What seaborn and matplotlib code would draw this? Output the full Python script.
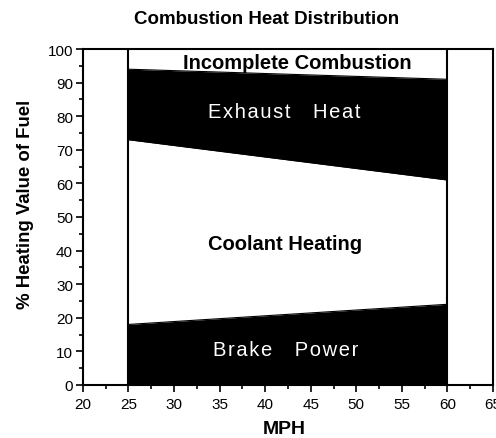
import matplotlib
matplotlib.use("Agg")
import matplotlib.pyplot as plt
import seaborn as sns
import pandas as pd
from matplotlib.ticker import MultipleLocator

mph = [25, 60]
brake_top = [18, 24]
exhaust_bottom = [73, 61]
exhaust_top = [94, 91]

title = "Combustion Heat Distribution"
xlabel = "MPH"
ylabel = "% Heating Value of Fuel"

sns.set_theme(style="ticks")
plt.rcParams['font.family'] = ['Liberation Sans', 'DejaVu Sans']
plt.rcParams['text.color'] = 'black'
plt.rcParams['axes.labelcolor'] = 'black'

fig = plt.figure(figsize=(4.96, 4.39), dpi=100)
ax = fig.add_axes([0.167, 0.121, 0.827, 0.765])

df = pd.DataFrame({"MPH": mph, "brake": brake_top, "exb": exhaust_bottom, "ext": exhaust_top})
for col in ["brake", "exb", "ext"]:
    sns.lineplot(data=df, x="MPH", y=col, ax=ax, color="black", linewidth=0.8)
ax.fill_between(mph, 0, brake_top, color="black", linewidth=0)
ax.fill_between(mph, exhaust_bottom, exhaust_top, color="black", linewidth=0)
for x in mph:
    ax.axvline(x, color="black", linewidth=1.5)

ax.set_xlim(20, 65)
ax.set_ylim(0, 100)
ax.xaxis.set_major_locator(MultipleLocator(5))
ax.xaxis.set_minor_locator(MultipleLocator(2.5))
ax.yaxis.set_major_locator(MultipleLocator(10))
ax.yaxis.set_minor_locator(MultipleLocator(5))
ax.tick_params(which="major", direction="out", length=5, width=1.2, labelsize=11, colors="black", pad=2)
ax.tick_params(axis="x", which="major", pad=4)
ax.tick_params(which="minor", direction="out", length=3, width=1.2, colors="black")
for s in ax.spines.values():
    s.set_linewidth(1.5)
    s.set_color("black")
    s.set_visible(True)

ax.set_xlabel(xlabel, fontsize=14, fontweight="bold")
ax.set_ylabel(ylabel, fontsize=13.4, fontweight="bold")
ax.xaxis.set_label_coords(0.49, -0.105)
ax.yaxis.set_label_coords(-0.118, 0.539)
fig.suptitle(title, x=0.537, y=0.975, fontsize=13.5, fontweight="bold", color="black")

hs = "\u200a"
def spaced(a, b):
    return hs.join(a) + "    " + hs.join(b)

ax.text(43.5, 94.3, "Incomplete Combustion", ha="center", va="baseline", fontsize=14.5, fontweight="bold", color="black")
ax.text(42.1, 79.9, spaced("Exhaust", "Heat"), ha="center", va="baseline", fontsize=14.5, color="white")
ax.text(42.2, 40.5, "Coolant Heating", ha="center", va="baseline", fontsize=14.5, fontweight="bold", color="black")
ax.text(42.2, 9.0, spaced("Brake", "Power"), ha="center", va="baseline", fontsize=14.5, color="white")

fig.savefig("out.png", dpi=100)
